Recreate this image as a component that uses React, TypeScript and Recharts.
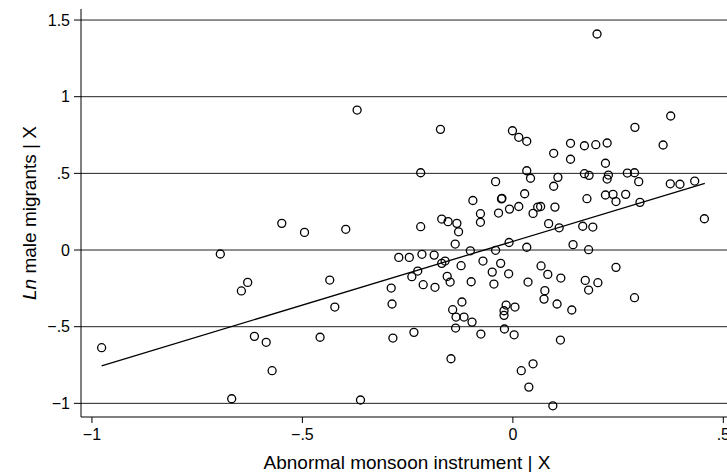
import React from "react"
import {
  ScatterChart,
  Scatter,
  XAxis,
  YAxis,
  ReferenceLine,
} from "recharts"

// instrument values (x) and ln male migrants residuals (y)
const instrument = [
  -0.977, -0.695, -0.645, -0.63, -0.668, -0.614, -0.586, -0.572, -0.549, -0.495,
  -0.458, -0.435, -0.423, -0.397, -0.37, -0.362, -0.289, -0.287, -0.285, -0.271,
  -0.246, -0.24, -0.235, -0.226, -0.219, -0.219, -0.216, -0.213, -0.187, -0.185,
  -0.172, -0.169, -0.169, -0.161, -0.156, -0.154, -0.149, -0.147, -0.143, -0.137,
  -0.136, -0.135, -0.133, -0.129, -0.123, -0.121, -0.116, -0.101, -0.099, -0.097,
  -0.095, -0.077, -0.077, -0.076, -0.071, -0.049, -0.045, -0.041, -0.041, -0.034,
  -0.029, -0.026, -0.027, -0.021, -0.021, -0.02, -0.016, -0.009, -0.01, -0.008,
  -0.001, 0.003, 0.005, 0.014, 0.014, 0.02, 0.028, 0.033, 0.033, 0.033,
  0.036, 0.038, 0.042, 0.048, 0.048, 0.059, 0.066, 0.067, 0.074, 0.076,
  0.083, 0.085, 0.095, 0.097, 0.097, 0.1, 0.105, 0.107, 0.11, 0.113,
  0.114, 0.137, 0.137, 0.14, 0.143, 0.166, 0.17, 0.17, 0.172, 0.176,
  0.18, 0.18, 0.181, 0.19, 0.197, 0.2, 0.202, 0.22, 0.22, 0.224,
  0.224, 0.227, 0.238, 0.245, 0.245, 0.268, 0.272, 0.289, 0.289, 0.29,
  0.299, 0.302, 0.357, 0.374, 0.375, 0.397, 0.432, 0.455,
]
const migrants = [
  -0.637, -0.026, -0.267, -0.211, -0.97, -0.563, -0.602, -0.787, 0.174, 0.115,
  -0.569, -0.196, -0.372, 0.135, 0.913, -0.978, -0.248, -0.352, -0.574, -0.048,
  -0.048, -0.174, -0.537, -0.137, 0.152, 0.504, -0.028, -0.226, -0.033, -0.243,
  0.787, 0.202, -0.087, -0.072, -0.172, 0.185, -0.209, -0.709, -0.389, 0.039,
  -0.509, -0.437, 0.174, 0.119, -0.102, -0.339, -0.437, -0.005, -0.207, -0.47,
  0.323, 0.237, 0.181, -0.548, -0.072, -0.144, -0.222, 0.446, -0.002, 0.241,
  -0.087, 0.337, 0.333, -0.396, -0.426, -0.515, -0.359, 0.049, -0.155, 0.267,
  0.778, -0.553, -0.372, 0.284, 0.735, -0.787, 0.367, 0.709, 0.517, 0.018,
  -0.209, -0.894, 0.468, -0.742, 0.239, 0.28, 0.284, -0.104, -0.32, -0.265,
  -0.159, 0.172, -1.016, 0.631, 0.416, 0.28, -0.352, 0.474, 0.145, -0.587,
  -0.183, 0.696, 0.592, -0.391, 0.035, 0.155, 0.68, 0.498, -0.198, 0.335,
  0.002, -0.261, 0.487, 0.15, 0.687, 1.409, -0.213, 0.566, 0.359, 0.698,
  0.463, 0.489, 0.363, 0.316, -0.113, 0.363, 0.502, 0.504, -0.311, 0.8,
  0.446, 0.311, 0.685, 0.432, 0.874, 0.429, 0.45, 0.204,
]

// fitted line endpoints
const fitX = [-0.977, 0.456]
const fitY = [-0.755, 0.435]

const xTicks = [-1, -0.5, 0, 0.5]
const xTickLabels = ["−1", "−.5", "0", ".5"]
const yTicks = [-1, -0.5, 0, 0.5, 1, 1.5]
const yTickLabels = ["−1", "−.5", "0", ".5", "1", "1.5"]

const points = instrument.map((x, i) => ({ x, y: migrants[i] }))

const font = "'Liberation Sans', Arial, Helvetica, sans-serif"

function Ring(props: any) {
  const { cx, cy } = props
  if (cx == null || cy == null) return null
  return <circle cx={cx} cy={cy} r={4} fill="none" stroke="#000" strokeWidth={1.3} />
}

function YTitle({ viewBox }: any) {
  const cx = 29
  const cy = viewBox.y + viewBox.height / 2
  return (
    <text
      x={cx}
      y={cy}
      transform={`rotate(-90, ${cx}, ${cy})`}
      textAnchor="middle"
      dominantBaseline="central"
      fontFamily={font}
      fontSize={19}
      fill="#000"
    >
      <tspan fontStyle="italic">Ln</tspan>
      <tspan> male migrants | X</tspan>
    </text>
  )
}

function XTitle({ viewBox }: any) {
  return (
    <text
      x={viewBox.x + viewBox.width / 2}
      y={462}
      textAnchor="middle"
      dominantBaseline="central"
      fontFamily={font}
      fontSize={19}
      fill="#000"
    >
      Abnormal monsoon instrument | X
    </text>
  )
}

export default function App() {
  return (
    <div
      style={{
        position: "fixed",
        left: 0,
        top: 0,
        width: 727,
        height: 472,
        overflow: "hidden",
        background: "#fff",
      }}
    >
      <ScatterChart width={733} height={472} margin={{ top: 9, right: 0, bottom: 0, left: 0 }}>
        <XAxis
          type="number"
          dataKey="x"
          domain={[-1.026, 0.523]}
          ticks={xTicks}
          interval={0}
          tickFormatter={(v: number) => xTickLabels[xTicks.indexOf(v)]}
          height={55}
          tickSize={6}
          tickMargin={6}
          axisLine={{ stroke: "#000" }}
          tickLine={{ stroke: "#000" }}
          tick={{ fill: "#000", fontSize: 16, fontFamily: font }}
          label={<XTitle />}
        />
        <YAxis
          type="number"
          dataKey="y"
          domain={[-1.089, 1.572]}
          ticks={yTicks}
          interval={0}
          tickFormatter={(v: number) => yTickLabels[yTicks.indexOf(v)]}
          width={81}
          tickSize={7}
          tickMargin={4}
          axisLine={{ stroke: "#000" }}
          tickLine={{ stroke: "#000" }}
          tick={{ fill: "#000", fontSize: 16, fontFamily: font }}
          label={<YTitle />}
        />
        {yTicks.map((t) => (
          <ReferenceLine key={t} y={t} stroke="#222" strokeWidth={1} />
        ))}
        <ReferenceLine
          segment={[
            { x: fitX[0], y: fitY[0] },
            { x: fitX[1], y: fitY[1] },
          ]}
          stroke="#000"
          strokeWidth={1.3}
          ifOverflow="visible"
        />
        <Scatter data={points} shape={<Ring />} isAnimationActive={false} />
      </ScatterChart>
    </div>
  )
}
